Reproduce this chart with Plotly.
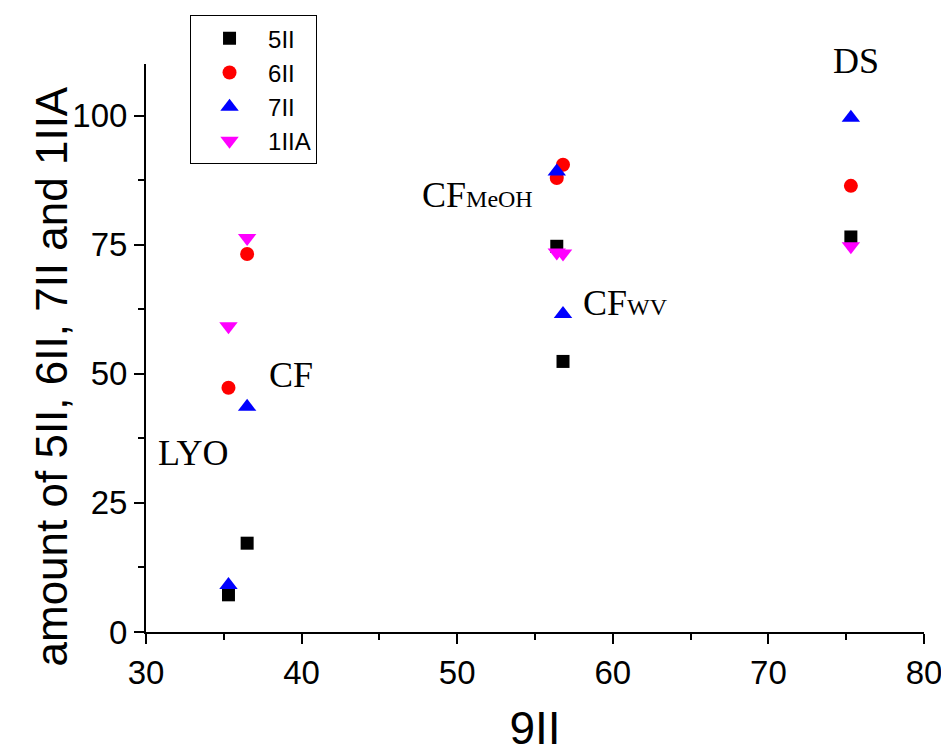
import plotly.graph_objects as go

# data
x_9II = [35.3, 36.5, 56.4, 56.8, 75.3]
y_5II = [7.2, 17.2, 74.7, 52.4, 76.5]
y_6II = [47.3, 73.2, 87.9, 90.5, 86.4]
y_7II = [9.1, 43.6, 89.2, 61.6, 99.6]
y_1IIA = [59.2, 76.3, 73.5, 73.3, 74.7]
series_names = ["5II", "6II", "7II", "1IIA"]

group_labels = ["LYO", "CF", "CF<span style='font-size:24px'>MeOH</span>",
                "CF<span style='font-size:24px'>WV</span>", "DS"]
label_x = [33.0, 39.3, 51.3, 60.8, 75.6]
label_y = [34.7, 49.8, 84.7, 63.8, 110.5]

x_ticks = [30, 40, 50, 60, 70, 80]
y_ticks = [0, 25, 50, 75, 100]
y_range = [0, 110]

fig = go.Figure()
styles = [
    dict(symbol="square", color="black", size=13),
    dict(symbol="circle", color="red", size=14),
    dict(symbol="triangle-up", color="blue", size=16),
    dict(symbol="triangle-down", color="magenta", size=16),
]
for name, ys, st in zip(series_names, [y_5II, y_6II, y_7II, y_1IIA], styles):
    fig.add_trace(go.Scatter(x=x_9II, y=ys, mode="markers", name=name,
                             marker=dict(symbol=st["symbol"], color=st["color"],
                                         size=st["size"], line=dict(width=0)),
                             cliponaxis=False))

for t, lx, ly in zip(group_labels, label_x, label_y):
    fig.add_annotation(x=lx, y=(ly - y_range[0]) / (y_range[1] - y_range[0]),
                       xref="x", yref="y domain", text=t, showarrow=False,
                       xanchor="center", yanchor="middle",
                       font=dict(family="Liberation Serif, Times New Roman, serif",
                                 size=36, color="black"))

# y-axis title as rotated annotation for precise placement
fig.add_annotation(x=-0.122, y=0.45, xref="paper", yref="paper",
                   text="amount of 5II, 6II, 7II and 1IIA", textangle=-90, showarrow=False,
                   xanchor="center", yanchor="middle",
                   font=dict(family="Liberation Sans, Arial", size=44, color="black"))

tickfont = dict(family="Liberation Sans, Arial", size=33, color="black")
fig.update_xaxes(range=[30, 80], tickvals=x_ticks, ticktext=[str(v) for v in x_ticks],
                 automargin=False, ticklabeloverflow="allow",
                 showline=True, linecolor="black", linewidth=2, showgrid=False, zeroline=False,
                 ticks="outside", ticklen=10, tickwidth=2, tickcolor="black", tickfont=tickfont,
                 minor=dict(ticks="outside", ticklen=6, tickwidth=2, tickcolor="black",
                            dtick=5, showgrid=False),
                 title=dict(text="9II", font=dict(family="Liberation Sans, Arial", size=46,
                                                  color="black"), standoff=22))
fig.update_yaxes(range=y_range, tickvals=y_ticks, ticktext=[str(v) for v in y_ticks],
                 automargin=False, ticklabeloverflow="allow",
                 showline=True, linecolor="black", linewidth=2, showgrid=False, zeroline=False,
                 ticks="outside", ticklen=10, tickwidth=2, tickcolor="black", tickfont=tickfont,
                 minor=dict(ticks="outside", ticklen=6, tickwidth=2, tickcolor="black",
                            dtick=12.5, showgrid=False))

fig.update_layout(
    width=941, height=755,
    margin=dict(l=146, r=17, t=64, b=123),
    plot_bgcolor="white", paper_bgcolor="white",
    showlegend=True,
    legend=dict(x=0.0566, y=1.086, xanchor="left", yanchor="top",
                bordercolor="black", borderwidth=1, bgcolor="white",
                font=dict(family="Liberation Sans, Arial", size=24, color="black"),
                itemwidth=67, tracegroupgap=0),
)

fig.write_html("out.html", config={"displayModeBar": False},
               post_script="document.body.style.margin='0';document.body.style.overflow='hidden';")
